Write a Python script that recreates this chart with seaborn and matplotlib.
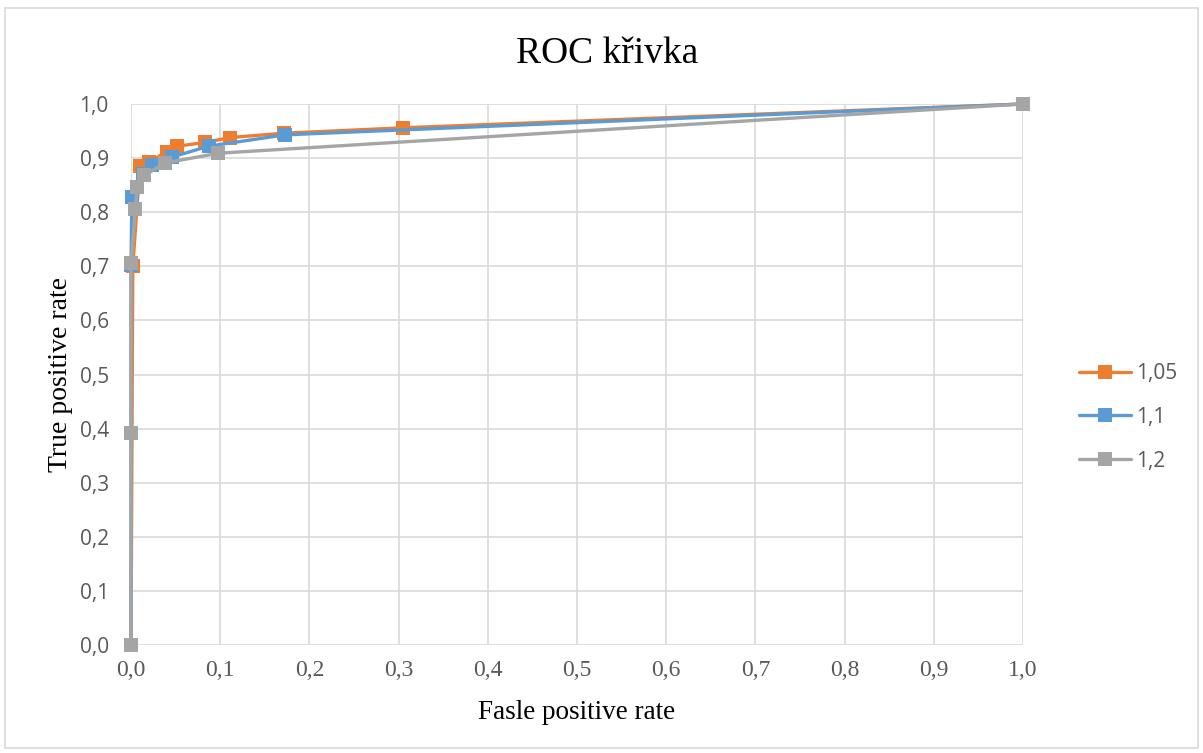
import matplotlib
matplotlib.use("Agg")
import matplotlib.pyplot as plt
from matplotlib.patches import Rectangle
from matplotlib.ticker import FuncFormatter, MultipleLocator
import pandas as pd
import seaborn as sns

# ROC points for each threshold setting
fpr_105 = [0.0, 0.002, 0.010, 0.020, 0.040, 0.052, 0.083, 0.111, 0.172, 0.305, 1.0]
tpr_105 = [0.0, 0.700, 0.885, 0.892, 0.912, 0.922, 0.929, 0.938, 0.946, 0.956, 1.0]

fpr_11 = [0.0, 0.0, 0.001, 0.013, 0.024, 0.046, 0.087, 0.173, 1.0]
tpr_11 = [0.0, 0.703, 0.828, 0.870, 0.887, 0.902, 0.922, 0.943, 1.0]

fpr_12 = [0.0, 0.0, 0.0, 0.005, 0.007, 0.015, 0.038, 0.098, 1.0]
tpr_12 = [0.0, 0.392, 0.706, 0.806, 0.847, 0.868, 0.891, 0.909, 1.0]

labels = ["1,05", "1,1", "1,2"]
colors = ["#ED7D31", "#5B9BD5", "#A5A5A5"]

frames = []
for lab, xs, ys in zip(labels, [fpr_105, fpr_11, fpr_12], [tpr_105, tpr_11, tpr_12]):
    frames.append(pd.DataFrame({"fpr": xs, "tpr": ys, "series": lab}))

sns.set_theme(style="white")
plt.rcParams["font.family"] = ["Liberation Serif", "DejaVu Serif"]
SANS = ["Open Sans", "DejaVu Sans"]

fig = plt.figure(figsize=(12.03, 7.53), dpi=100)
fig.patches.append(Rectangle((0.004, 0.006), 0.992, 0.983, transform=fig.transFigure,
                             fill=False, edgecolor="#D9D9D9", linewidth=1.2))
ax = fig.add_axes([0.1089, 0.1434, 0.7415, 0.7185])

for df, col in zip(frames, colors):
    sns.lineplot(data=df, x="fpr", y="tpr", sort=False, estimator=None, ax=ax,
                 color=col, linewidth=2.4, marker="s", markersize=10.5,
                 markeredgewidth=0, label=df["series"].iloc[0], zorder=3)

ax.set_xlim(0, 1)
ax.set_ylim(0, 1)
ax.xaxis.set_major_locator(MultipleLocator(0.1))
ax.yaxis.set_major_locator(MultipleLocator(0.1))
fmt = FuncFormatter(lambda v, p: f"{v:.1f}".replace(".", ","))
ax.xaxis.set_major_formatter(fmt)
ax.yaxis.set_major_formatter(fmt)
ax.grid(True, color="#D9D9D9", linewidth=1.2)
for s in ax.spines.values():
    s.set_visible(False)
ax.tick_params(axis="x", length=0, labelsize=17, pad=11)
ax.tick_params(axis="y", length=0, labelsize=15, pad=16)
for lbl in ax.get_xticklabels():
    lbl.set_color("#595959")
for lbl in ax.get_yticklabels():
    lbl.set_color("#595959")
    lbl.set_family(SANS)
for line in ax.lines:
    line.set_clip_on(False)

ax.set_xlabel("Fasle positive rate", fontsize=19.5, color="black")
ax.set_ylabel("True positive rate", fontsize=20, color="black")
ax.xaxis.set_label_coords(0.5, -0.124)
ax.xaxis.label.set_va("center")
ax.yaxis.set_label_coords(-0.0796, 0.5)
ax.yaxis.label.set_va("center")

fig.text(0.5046, 0.9163, "ROC křivka", fontsize=27, color="black",
         ha="center", va="baseline")

leg = ax.legend(loc="center left", bbox_to_anchor=(1.042, 0.421), frameon=False,
                prop={"family": SANS, "size": 15}, handlelength=2.5,
                handletextpad=0.25, labelspacing=1.1)
for t in leg.get_texts():
    t.set_color("#595959")

fig.savefig("out.png", dpi=100)
